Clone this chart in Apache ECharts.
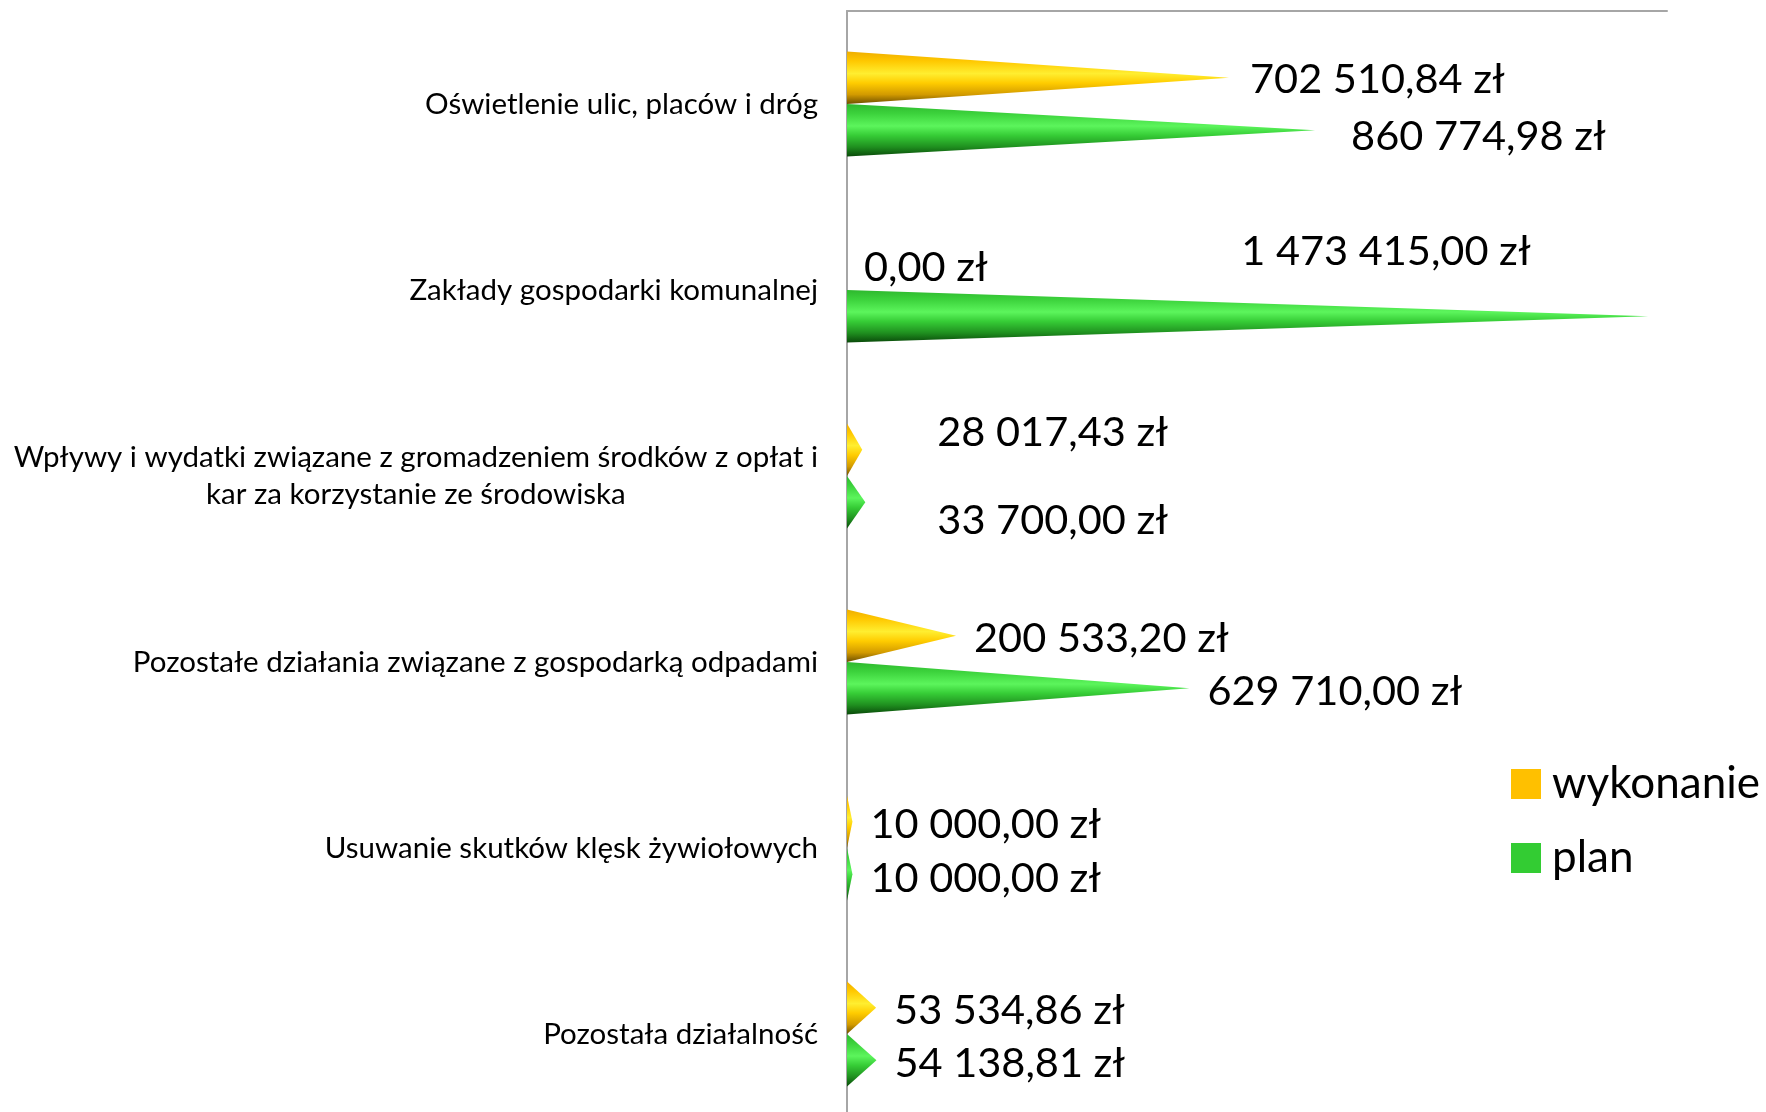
<!DOCTYPE html>
<html><head><meta charset="utf-8">
<script src="https://cdn.jsdelivr.net/npm/echarts@6/dist/echarts.min.js"></script>
<style>html,body{margin:0;padding:0;background:#fff}#c{width:1766px;height:1112px}</style>
</head><body><div id="c"></div>
<script>
// ---- data ----
const categories = [
  'Oświetlenie ulic, placów i dróg',
  'Zakłady gospodarki komunalnej',
  'Wpływy i wydatki związane z gromadzeniem środków z opłat i kar za korzystanie ze środowiska',
  'Pozostałe działania związane z gospodarką odpadami',
  'Usuwanie skutków klęsk żywiołowych',
  'Pozostała działalność'
];
const wykonanie = [702510.84, 0, 28017.43, 200533.20, 10000, 53534.86];
const plan = [860774.98, 1473415, 33700, 629710, 10000, 54138.81];
const seriesNames = ['wykonanie', 'plan'];

// ---- presentation ----
const FONT = 'Lato, "Open Sans", sans-serif';
const CAT_FONT_SIZE = 29.5;
const VAL_FONT_SIZE = 41.5;
const LEGEND_FONT_SIZE = 44;
const BAR_FRACTION = 0.282;
const LABEL_GAP = 18;
const LABEL_DY = 2;
// manual label nudges (like the hand-placed labels in the original), per series
const NUDGE = [
  [[3,0],[-1,2],[57,-19],[0,1],[0,1],[0,1]],
  [[18,4],[-425,-67],[54,16],[0,1],[0,2],[0,1]]
];
const COLORS = ['#FFC000', '#33CC33'];
const GRADS = [
  [[0,'#EFAE00'],[0.18,'#FFC800'],[0.42,'#FFEE30'],[0.6,'#FFCC00'],[0.82,'#D29A00'],[1,'#6E5000']],
  [[0,'#2EB82E'],[0.18,'#3CD23C'],[0.42,'#5CF55C'],[0.6,'#36CC36'],[0.82,'#1F8F1F'],[1,'#0A4A0A']]
];

function fmtPL(v) {
  const s = v.toFixed(2).split('.');
  const int = s[0].replace(/\B(?=(\d{3})+(?!\d))/g, ' ');
  return int + ',' + s[1] + ' zł';
}

const measureCtx = document.createElement('canvas').getContext('2d');
function wrapText(text, maxW) {
  measureCtx.font = CAT_FONT_SIZE + 'px ' + FONT;
  const words = text.split(' ');
  const lines = [];
  let cur = '';
  words.forEach(w => {
    const t = cur ? cur + ' ' + w : w;
    if (measureCtx.measureText(t).width > maxW && cur) { lines.push(cur); cur = w; }
    else cur = t;
  });
  if (cur) lines.push(cur);
  return lines;
}

function makeRender(si) {
  return function (params, api) {
    const ci = api.value(1);
    const v = api.value(0);
    const base = api.coord([0, ci]);
    const tip = api.coord([v, ci]);
    const band = api.size([0, 1])[1];
    const bw = band * BAR_FRACTION;
    const yTop = base[1] - bw + si * bw;
    const yMid = yTop + bw / 2;
    const children = [];
    if (tip[0] - base[0] > 0.5) {
      children.push({
        type: 'polygon',
        shape: { points: [[base[0], yTop], [tip[0], yMid], [base[0], yTop + bw]] },
        style: { fill: new echarts.graphic.LinearGradient(0, 0, 0, 1,
          GRADS[si].map(s => ({ offset: s[0], color: s[1] }))) }
      });
    }
    const n = NUDGE[si][params.dataIndex];
    children.push({
      type: 'text',
      x: tip[0] + LABEL_GAP + n[0],
      y: yMid + n[1] + LABEL_DY,
      style: {
        text: fmtPL(v),
        fill: '#000',
        font: VAL_FONT_SIZE + 'px ' + FONT,
        textAlign: 'left',
        textVerticalAlign: 'middle'
      }
    });
    return { type: 'group', children: children };
  };
}

const chart = echarts.init(document.getElementById('c'));
chart.setOption({
  backgroundColor: '#fff',
  animation: false,
  grid: { left: 847, top: 11, width: 820, height: 1116, outerBoundsMode: 'none', containLabel: false },
  xAxis: {
    type: 'value', min: 0, max: 1508000, position: 'top',
    axisLine: { show: true, lineStyle: { color: '#A6A6A6', width: 2 } },
    axisTick: { show: false }, axisLabel: { show: false }, splitLine: { show: false }
  },
  yAxis: {
    type: 'category', inverse: true, data: categories,
    axisLine: { show: true, lineStyle: { color: '#A6A6A6', width: 2 } },
    axisTick: { show: false },
    axisLabel: {
      margin: 29, color: '#000', fontFamily: FONT, fontSize: CAT_FONT_SIZE,
      formatter: function (val) {
        return wrapText(val, 830).map(l => '{c|' + l + '}').join('\n');
      },
      rich: { c: { align: 'center', fontFamily: FONT, fontSize: CAT_FONT_SIZE, lineHeight: 37, color: '#000' } }
    }
  },
  legend: {
    orient: 'vertical', left: 1506, top: 754, itemGap: 24,
    itemWidth: 30, itemHeight: 30, icon: 'rect',
    textStyle: { fontFamily: FONT, fontSize: LEGEND_FONT_SIZE, lineHeight: 50, color: '#000', padding: [0, 0, 0, 6] },
    data: seriesNames
  },
  series: [
    { name: seriesNames[0], type: 'custom', renderItem: makeRender(0), itemStyle: { color: COLORS[0] },
      encode: { x: 0, y: 1 }, data: wykonanie.map((v, i) => [v, i]) },
    { name: seriesNames[1], type: 'custom', renderItem: makeRender(1), itemStyle: { color: COLORS[1] },
      encode: { x: 0, y: 1 }, data: plan.map((v, i) => [v, i]) }
  ]
});
</script>
</body></html>
